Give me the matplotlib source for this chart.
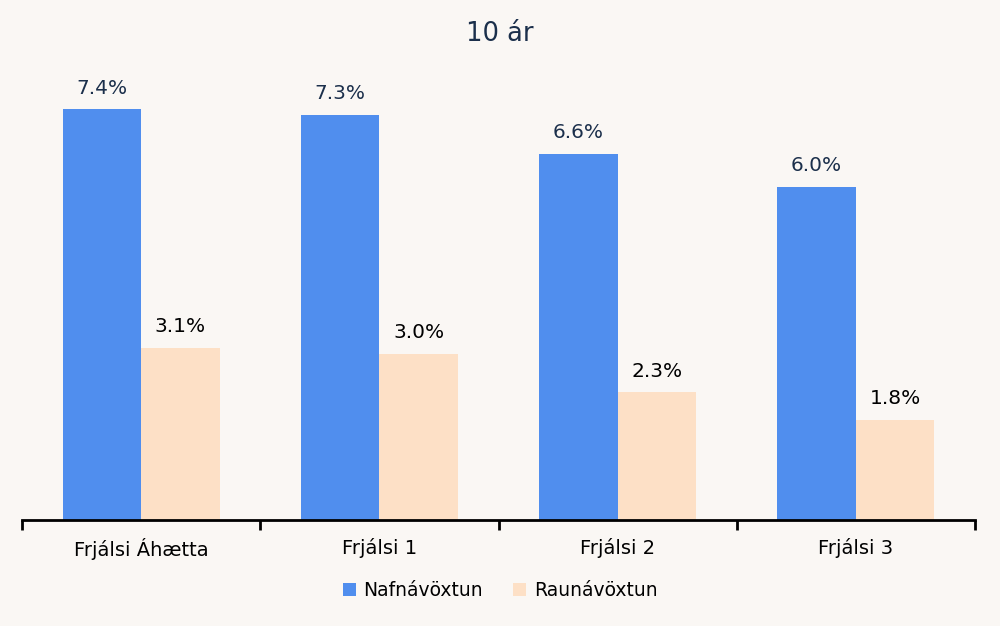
import numpy as np
import matplotlib.pyplot as plt

# data
categories = ["Frjálsi Áhætta", "Frjálsi 1", "Frjálsi 2", "Frjálsi 3"]
nafnavoxtun = [7.4, 7.3, 6.6, 6.0]
raunavoxtun = [3.1, 3.0, 2.3, 1.8]
series_names = ["Nafnávöxtun", "Raunávöxtun"]

BG = "#faf7f4"
BLUE = "#508eee"
PEACH = "#fde0c6"
NAVY = "#1b2f4b"

fig = plt.figure(figsize=(10, 6.26), dpi=100, facecolor=BG)
ax = fig.add_axes([0.022, 0.1693, 0.953, 0.709])
ax.set_facecolor(BG)

x = np.arange(len(categories))
w = 0.33
b1 = ax.bar(x - w / 2, nafnavoxtun, w, color=BLUE, label=series_names[0])
b2 = ax.bar(x + w / 2, raunavoxtun, w, color=PEACH, label=series_names[1])

for rect, v in zip(b1, nafnavoxtun):
    ax.annotate(f"{v:.1f}%", (rect.get_x() + rect.get_width() / 2, v),
                xytext=(0, 8.5), textcoords="offset points",
                ha="center", va="bottom", fontsize=14.5, color=NAVY)
for rect, v in zip(b2, raunavoxtun):
    ax.annotate(f"{v:.1f}%", (rect.get_x() + rect.get_width() / 2, v),
                xytext=(0, 8.5), textcoords="offset points",
                ha="center", va="bottom", fontsize=14.5, color="black")

ax.set_xlim(-0.5, len(categories) - 0.5)
ax.set_ylim(0, 8.0)

for s in ["top", "right", "left"]:
    ax.spines[s].set_visible(False)
ax.spines["bottom"].set_linewidth(2)
ax.set_yticks([])

# ticks on boundaries, labels centred
ax.set_xticks(np.arange(len(categories) + 1) - 0.5)
ax.set_xticklabels([])
ax.set_xticks(x, minor=True)
ax.set_xticklabels(categories, minor=True, fontsize=14)
ax.tick_params(axis="x", which="major", length=7, width=2, direction="out")
ax.tick_params(axis="x", which="minor", length=0, pad=13)

fig.text(0.5, 0.946, "10 ár", ha="center", va="center", fontsize=18.5, color=NAVY)

leg = fig.legend(handles=[b1, b2], loc="center", bbox_to_anchor=(0.5, 0.057),
                 ncol=2, frameon=False, fontsize=13.5, handlelength=0.7,
                 handleheight=0.7, handletextpad=0.4, columnspacing=1.6)

fig.savefig("out.png", dpi=100, facecolor=BG)
